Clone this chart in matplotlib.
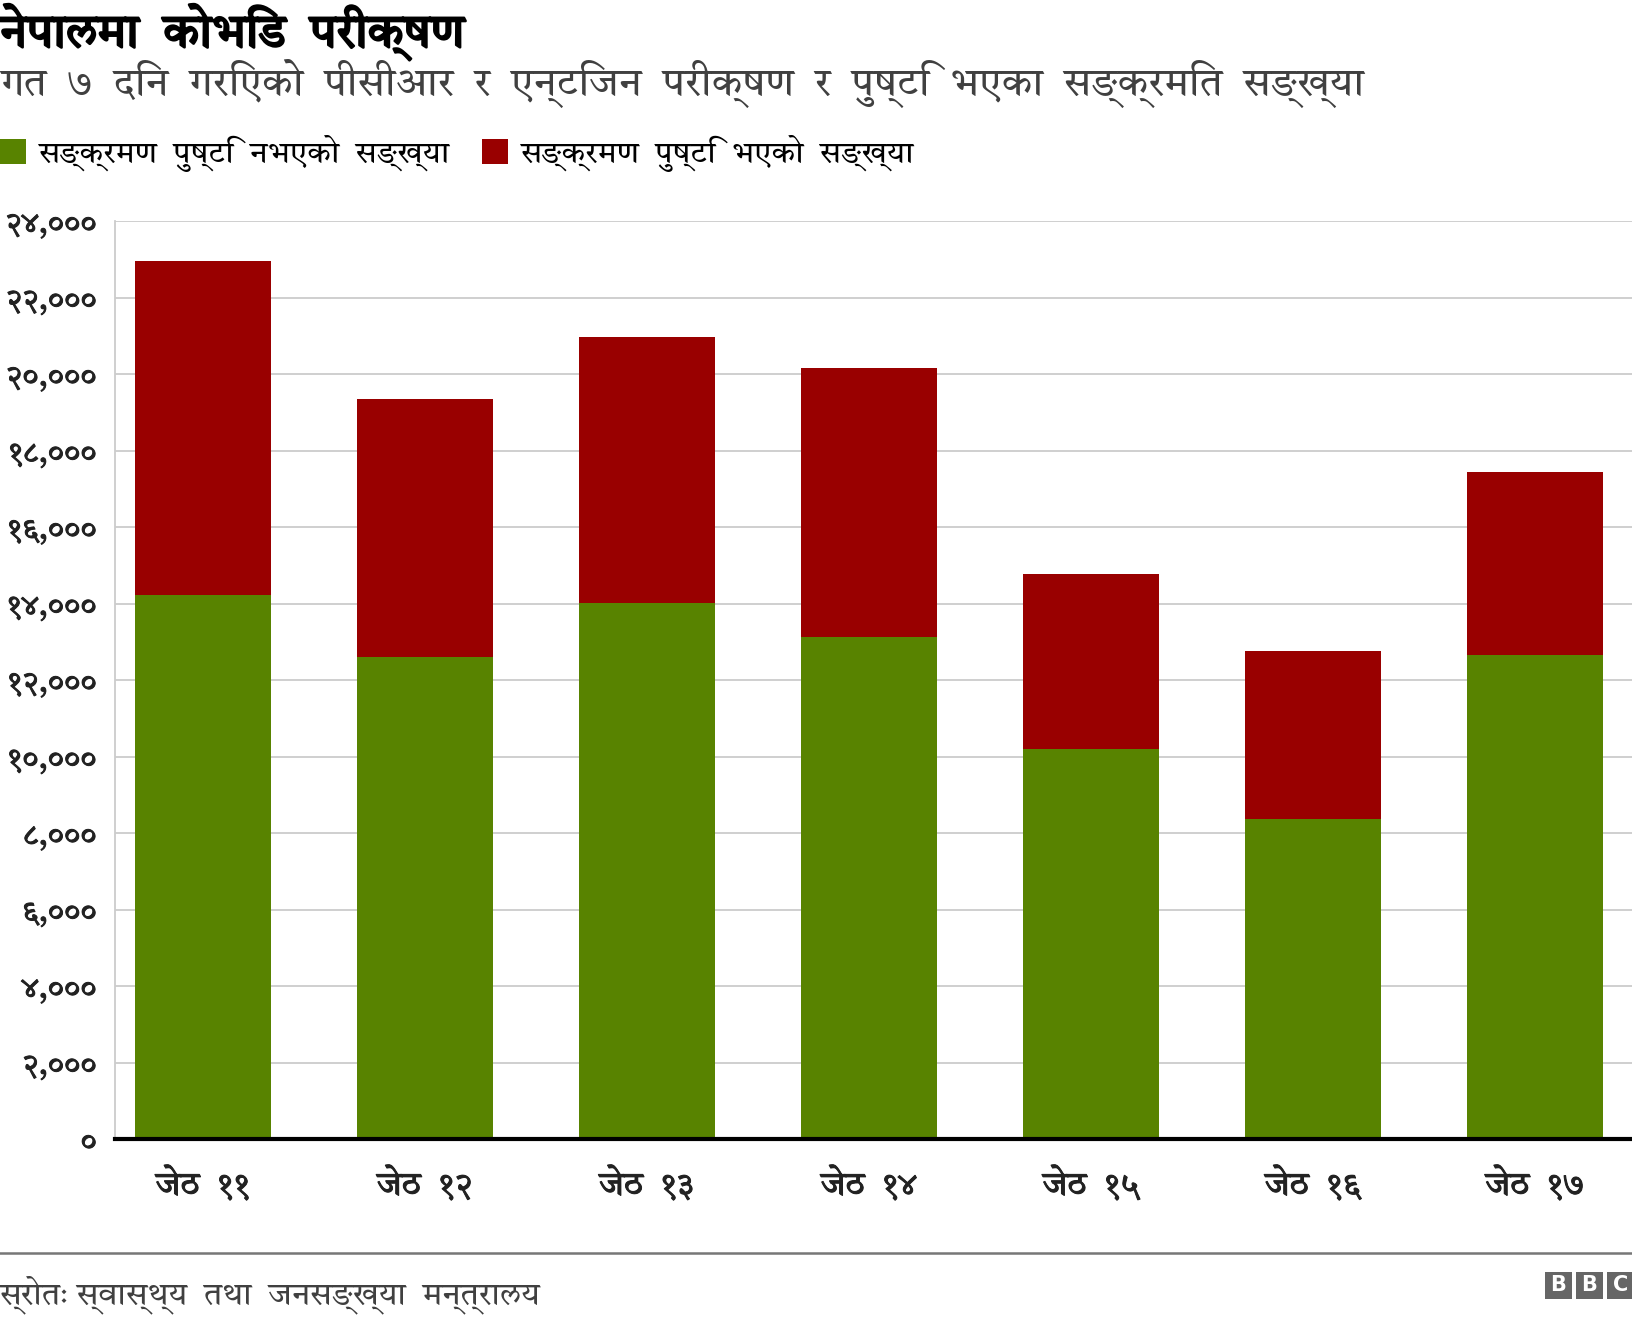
import matplotlib
matplotlib.use("Agg")
import matplotlib.pyplot as plt
import matplotlib.patheffects as pe
from matplotlib import font_manager, ft2font
from matplotlib.patches import Rectangle
from matplotlib.ticker import FuncFormatter, MultipleLocator

# ---------------- data ----------------
categories = ["जेठ ११", "जेठ १२", "जेठ १३", "जेठ १४", "जेठ १५", "जेठ १६", "जेठ १७"]
negative = [14220, 12610, 14020, 13130, 10190, 8360, 12660]   # सङ्क्रमण पुष्टि नभएको
positive = [8730, 6740, 6960, 7020, 4570, 4390, 4790]         # सङ्क्रमण पुष्टि भएको
series_labels = ["सङ्क्रमण पुष्टि नभएको सङ्ख्या", "सङ्क्रमण पुष्टि भएको सङ्ख्या"]
title = "नेपालमा कोभिड परीक्षण"
subtitle = "गत ७ दिन गरिएको पीसीआर र एन्टिजन परीक्षण र पुष्टि भएका सङ्क्रमित सङ्ख्या"
source = "स्रोतः स्वास्थ्य तथा जनसङ्ख्या मन्त्रालय"

# ---------------- font with Devanagari ----------------
def find_font(ch):
    best = None
    for path in sorted(font_manager.findSystemFonts()):
        try:
            f = ft2font.FT2Font(path)
            if ord(ch) in f.get_charmap():
                if best is None or "Devanagari" in path:
                    best = path
        except Exception:
            pass
    return best

fams = []
p = find_font("न")
if p:
    font_manager.fontManager.addfont(p)
    fams.append(font_manager.FontProperties(fname=p).get_name())
fams.append("DejaVu Sans")
plt.rcParams["font.family"] = fams


def wide(s):
    # the reference typeface uses very wide word spaces
    return s.replace(" ", "  ")


W, H = 1632, 1320
fig = plt.figure(figsize=(W / 100, H / 100), dpi=100)

def fx(x):
    return x / W

def fy(y):
    return 1 - y / H

ax_left, ax_right, ax_top, ax_bottom = 115, 1632, 221, 1139
ax = fig.add_axes([fx(ax_left), fy(ax_bottom), fx(ax_right - ax_left), (ax_bottom - ax_top) / H])

green = "#588300"
red = "#990000"
x = list(range(len(categories)))
b1 = ax.bar(x, negative, width=0.613, color=green, zorder=3, label=series_labels[0])
b2 = ax.bar(x, positive, width=0.613, bottom=negative, color=red, zorder=3, label=series_labels[1])

ax.set_xlim(-0.396, 6.437)
ax.set_ylim(0, 24000)
ax.yaxis.set_major_locator(MultipleLocator(2000))
ax.grid(axis="y", color="#cccccc", linewidth=1.3, zorder=0)
ax.set_axisbelow(True)

dev = str.maketrans("0123456789", "०१२३४५६७८९")
ax.yaxis.set_major_formatter(FuncFormatter(lambda v, pos: f"{int(v):,}".translate(dev)))
ax.set_xticks(x)
ax.set_xticklabels([wide(c) for c in categories])
ax.tick_params(axis="y", length=0, pad=13, labelsize=22, labelcolor="#222222")
ax.tick_params(axis="x", length=0, pad=20, labelsize=24, labelcolor="#222222")
for lab in ax.get_yticklabels() + ax.get_xticklabels():
    lab.set_path_effects([pe.withStroke(linewidth=0.7, foreground="#222222")])

for s in ["top", "right"]:
    ax.spines[s].set_visible(False)
ax.spines["left"].set_color("#cccccc")
ax.spines["left"].set_linewidth(1.3)
ax.spines["bottom"].set_color("black")
ax.spines["bottom"].set_linewidth(3)
ax.spines["bottom"].set_zorder(5)

# ---------------- titles ----------------
fig.text(fx(0), fy(32), wide(title), fontsize=34, fontweight="bold", color="#000000",
         va="center", ha="left",
         path_effects=[pe.withStroke(linewidth=1.6, foreground="#000000")])
fig.text(fx(0), fy(83), wide(subtitle), fontsize=28.9, color="#404040", va="center", ha="left")

fig.legend(handles=[b1, b2], labels=[wide(s) for s in series_labels], loc="center left",
           bbox_to_anchor=(0, fy(153)), ncol=2, frameon=False, fontsize=22.4,
           handlelength=0.85, handleheight=0.85, handletextpad=0.41,
           columnspacing=1.0, borderaxespad=0, borderpad=0)

# ---------------- footer ----------------
fig.add_artist(plt.Line2D([0, 1], [fy(1253), fy(1253)], color="#777777", linewidth=1.8))
fig.text(fx(0), fy(1295), wide(source), fontsize=23, color="#404040", va="center", ha="left")

sq = 27
gap = 4
x0 = 1545
for i, letter in enumerate("BBC"):
    xs = x0 + i * (sq + gap)
    fig.add_artist(Rectangle((fx(xs), fy(1285 + sq / 2)), sq / W, sq / H,
                             facecolor="#666666", edgecolor="none", transform=fig.transFigure))
    fig.text(fx(xs + sq / 2), fy(1285), letter, fontsize=15, fontweight="bold",
             color="white", ha="center", va="center", family="DejaVu Sans")

fig.savefig("out.png", dpi=100, facecolor="white")
